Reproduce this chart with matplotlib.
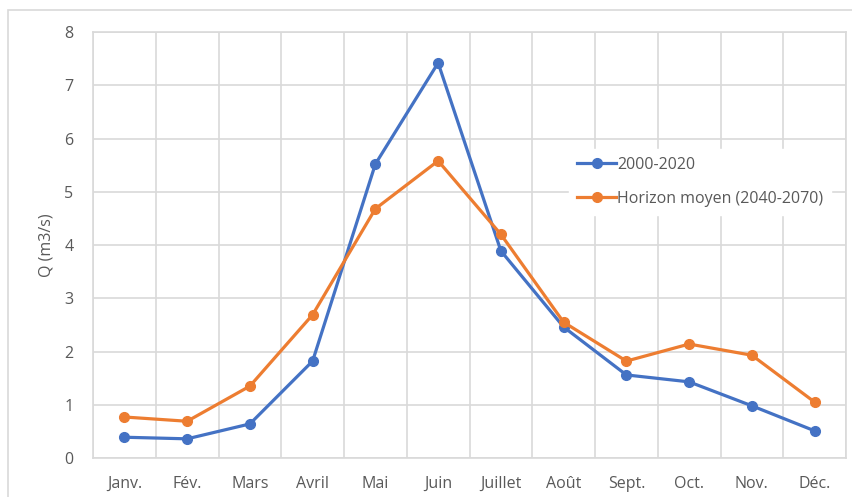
import matplotlib.pyplot as plt
import numpy as np
from matplotlib.patches import Rectangle

mois = ['Janv.', 'Fév.', 'Mars', 'Avril', 'Mai', 'Juin', 'Juillet', 'Août',
        'Sept.', 'Oct.', 'Nov.', 'Déc.']
q_2000_2020 = [0.39, 0.36, 0.64, 1.82, 5.52, 7.42, 3.89, 2.46, 1.56, 1.43, 0.98, 0.51]
q_2040_2070 = [0.77, 0.69, 1.35, 2.69, 4.68, 5.58, 4.20, 2.55, 1.82, 2.14, 1.93, 1.05]

plt.rcParams['font.family'] = ['Open Sans', 'DejaVu Sans']
gris_texte = '#595959'
gris_grille = '#d9d9d9'
taille = 11.5

fig = plt.figure(figsize=(8.52, 4.97), dpi=100)
fig.patches.append(Rectangle((8 / 852, -0.1), 1.2, 1 - 10 / 497 + 0.1,
                             transform=fig.transFigure, fill=False,
                             edgecolor=gris_grille, linewidth=1.2))
ax = fig.add_axes([93 / 852, 1 - 458 / 497, (846 - 93) / 852, (458 - 32) / 497])

x = np.arange(len(mois))
ax.plot(x, q_2000_2020, color='#4472C4', linewidth=2.3, marker='o', markersize=7,
        label='2000-2020', zorder=3)
ax.plot(x, q_2040_2070, color='#ED7D31', linewidth=2.3, marker='o', markersize=7,
        label='Horizon moyen (2040-2070)', zorder=3)

ax.set_xlim(-0.5, len(mois) - 0.5)
ax.set_ylim(0, 8)
ax.set_xticks(x)
ax.set_xticklabels(mois)
ax.set_xticks(np.arange(-0.5, len(mois), 1), minor=True)
ax.set_yticks(range(0, 9))
ax.tick_params(axis='both', which='both', length=0, colors=gris_texte, labelsize=taille)
ax.tick_params(axis='x', pad=13)
ax.tick_params(axis='y', pad=14)
ax.grid(True, which='minor', axis='x', color=gris_grille, linewidth=1.2)
ax.grid(True, which='major', axis='y', color=gris_grille, linewidth=1.2)
ax.set_axisbelow(True)
for s in ax.spines.values():
    s.set_color(gris_grille)
    s.set_linewidth(1.2)

ax.set_ylabel('Q (m3/s)', color=gris_texte, fontsize=taille, labelpad=7)

leg = ax.legend(loc='upper left', bbox_to_anchor=(0.622, 0.745), frameon=True,
                fancybox=False, framealpha=1, edgecolor='white', fontsize=taille,
                handlelength=2.4, handletextpad=0.1, labelspacing=1.15,
                borderpad=0.5)
for t in leg.get_texts():
    t.set_color(gris_texte)

fig.savefig('out.png', dpi=100, facecolor='white')
